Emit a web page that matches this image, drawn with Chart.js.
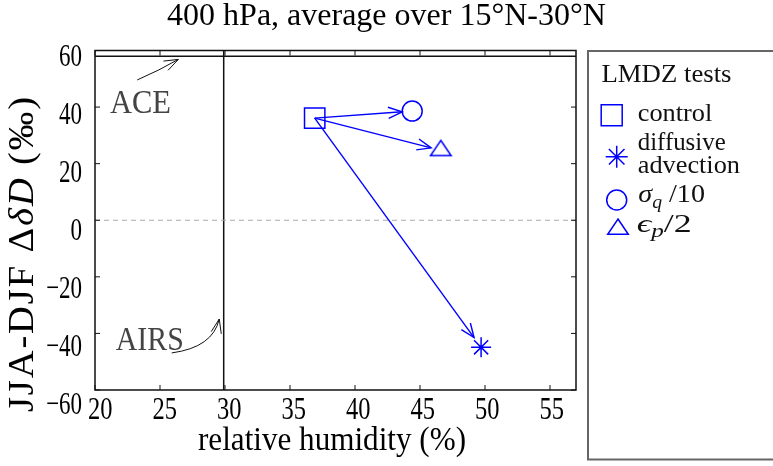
<!DOCTYPE html>
<html>
<head>
<meta charset="utf-8">
<script src="https://cdn.jsdelivr.net/npm/chart.js@4.4.0/dist/chart.umd.min.js"></script>
<style>
html, body { margin: 0; padding: 0; background: #fff; }
canvas { display: block; }
</style>
</head>
<body>
<canvas id="chart" width="773" height="466"></canvas>
<script>
var SERIF = '"Liberation Serif", "DejaVu Serif", serif';

// LMDZ tests: relative humidity (%) and JJA-DJF delta dD (permil)
var testNames = ["control", "diffusive advection", "sigma_q / 10", "eps_p / 2"];
var testRH = [36.9, 49.7, 44.4, 46.6];
var testDD = [36.1, -44.9, 38.6, 24.7];

// observations
var aceDD = 58;     // ACE, horizontal line
var airsRH = 29.9;  // AIRS, vertical line

// axes
var xMin = 20, xMax = 57, yMin = -60, yMax = 60;
var xTicks = [20, 25, 30, 35, 40, 45, 50, 55];
var yTicks = [-60, -40, -20, 0, 20, 40, 60];

// annotation anchors (data coords)
var aceLabel = [21.15, 37.9], aceArrow = [[23.25, 49.6], [26.41, 56.85]];
var airsLabel = [21.6, -45.9], airsArrow = [[25.9, -46.9], [29.08, -44.9], [29.56, -34.9]];

function segFont(s, size) {
    return (s.it ? 'italic ' : '') + (s.sub ? size * 0.7 : size).toFixed(1) + 'px ' + SERIF;
}

// draws a run of text segments; width given -> squeeze (or track out letters when o.track)
function drawText(ctx, segs, x, y, o) {
    if (typeof segs === 'string') segs = [{t: segs}];
    var size = o.size, natural = 0, nChars = 0;
    segs.forEach(function(s) {
        ctx.font = segFont(s, size);
        s.w = ctx.measureText(s.t).width;
        natural += s.w;
        nChars += s.t.length;
    });
    var sx = o.sx || 1, extra = 0, total = natural;
    if (o.width && o.track) { total = o.width / sx; extra = (total - natural) / (nChars - 1); }
    else if (o.width) sx = o.width / natural;
    ctx.save();
    ctx.translate(x, y);
    if (o.rot) ctx.rotate(o.rot);
    ctx.scale(sx, 1);
    var cx = o.align == 'center' ? -total / 2 : (o.align == 'right' ? -total : 0);
    ctx.fillStyle = o.color || '#000';
    ctx.textBaseline = 'alphabetic';
    ctx.textAlign = 'left';
    segs.forEach(function(s) {
        ctx.font = segFont(s, size);
        var dy = s.sub ? size * 0.22 : 0;
        if (extra) {
            for (var k = 0; k < s.t.length; k++) {
                ctx.fillText(s.t[k], cx, dy);
                cx += ctx.measureText(s.t[k]).width + extra;
            }
        } else {
            ctx.fillText(s.t, cx, dy);
            cx += s.w;
        }
    });
    ctx.restore();
}

function arrowHead(ctx, tx, ty, ang, len, spread) {
    ctx.beginPath();
    ctx.moveTo(tx - len * Math.cos(ang - spread), ty - len * Math.sin(ang - spread));
    ctx.lineTo(tx, ty);
    ctx.lineTo(tx - len * Math.cos(ang + spread), ty - len * Math.sin(ang + spread));
    ctx.stroke();
}

function triImage() {
    var c = document.createElement('canvas');
    c.width = 24; c.height = 30;
    var g = c.getContext('2d');
    g.strokeStyle = 'blue';
    g.lineWidth = 1.5;
    g.beginPath();
    g.moveTo(12, 5); g.lineTo(22.3, 20.3); g.lineTo(1.7, 20.3); g.closePath();
    g.stroke();
    return c;
}
var triImg = triImage();

function legendMarker(ctx, style, x, y) {
    ctx.save();
    ctx.strokeStyle = 'blue';
    ctx.lineWidth = 1.5;
    ctx.beginPath();
    if (style == 'rect') {
        ctx.rect(x - 10.5, y - 10.5, 21, 21);
    } else if (style == 'circle') {
        ctx.arc(x, y, 10, 0, Math.PI * 2);
    } else if (style == 'star') {
        for (var a = 0; a < 4; a++) {
            var r = a * Math.PI / 4;
            ctx.moveTo(x - 11 * Math.cos(r), y - 11 * Math.sin(r));
            ctx.lineTo(x + 11 * Math.cos(r), y + 11 * Math.sin(r));
        }
    } else {
        ctx.moveTo(x, y - 10); ctx.lineTo(x + 10.3, y + 5.3); ctx.lineTo(x - 10.3, y + 5.3); ctx.closePath();
    }
    ctx.stroke();
    ctx.restore();
}

var decor = {
    id: 'decor',
    afterDatasetsDraw: function(chart) {
        var ctx = chart.ctx, xs = chart.scales.x, ys = chart.scales.y;
        var shrink = [0, 12, 10, 10];
        var x0 = xs.getPixelForValue(testRH[0]), y0 = ys.getPixelForValue(testDD[0]);
        ctx.save();
        ctx.strokeStyle = 'blue';
        ctx.lineWidth = 1.4;
        for (var i = 1; i < testRH.length; i++) {
            var x1 = xs.getPixelForValue(testRH[i]), y1 = ys.getPixelForValue(testDD[i]);
            var ang = Math.atan2(y1 - y0, x1 - x0);
            var tx = x1 - shrink[i] * Math.cos(ang), ty = y1 - shrink[i] * Math.sin(ang);
            ctx.beginPath();
            ctx.moveTo(x0, y0);
            ctx.lineTo(tx, ty);
            ctx.stroke();
            arrowHead(ctx, tx, ty, ang, 15, 0.38);
        }
        ctx.restore();
    },
    afterDraw: function(chart) {
        var ctx = chart.ctx, a = chart.chartArea, xs = chart.scales.x, ys = chart.scales.y;
        ctx.save();
        // frame
        ctx.strokeStyle = '#111';
        ctx.lineWidth = 1.5;
        ctx.strokeRect(a.left, a.top, a.right - a.left, a.bottom - a.top);
        // inward ticks on all sides
        ctx.lineWidth = 1;
        ctx.beginPath();
        xTicks.forEach(function(v) {
            var p = xs.getPixelForValue(v);
            ctx.moveTo(p, a.bottom); ctx.lineTo(p, a.bottom - 5);
            ctx.moveTo(p, a.top); ctx.lineTo(p, a.top + 5);
        });
        yTicks.forEach(function(v) {
            var p = ys.getPixelForValue(v);
            ctx.moveTo(a.left, p); ctx.lineTo(a.left + 5, p);
            ctx.moveTo(a.right, p); ctx.lineTo(a.right - 5, p);
        });
        ctx.stroke();
        // tick labels
        xTicks.forEach(function(v) {
            var p = xs.getPixelForValue(v) + 5.2 - (v - xMin) * 0.1;
            drawText(ctx, String(v), p, 419, {size: 31, sx: 0.79, align: 'center'});
        });
        yTicks.forEach(function(v) {
            var p = ys.getPixelForValue(v) + 4.6 + (yMax - v) * 0.07 + 10.8;
            drawText(ctx, (v < 0 ? '\u2212' : '') + Math.abs(v), 82, p, {size: 32, sx: 0.72, align: 'right'});
        });
        // titles
        drawText(ctx, '400 hPa, average over 15\u00b0N-30\u00b0N', 386.5, 25, {size: 32, align: 'center'});
        drawText(ctx, 'relative humidity (%)', 332, 450, {size: 34, width: 268, align: 'center'});
        drawText(ctx, [{t: 'JJA-DJF \u0394'}, {t: '\u03b4D', it: 1}, {t: ' (\u2030)'}], 33, 412,
                 {size: 35, sx: 1.1, width: 315, track: true, rot: -Math.PI / 2});
        // observation annotations
        drawText(ctx, 'ACE', xs.getPixelForValue(aceLabel[0]), ys.getPixelForValue(aceLabel[1]),
                 {size: 34, width: 61, color: '#444'});
        drawText(ctx, 'AIRS', xs.getPixelForValue(airsLabel[0]), ys.getPixelForValue(airsLabel[1]),
                 {size: 34, width: 68, color: '#444'});
        ctx.strokeStyle = '#111';
        ctx.lineWidth = 1;
        var s = aceArrow.map(function(p) { return [xs.getPixelForValue(p[0]), ys.getPixelForValue(p[1])]; });
        ctx.beginPath();
        ctx.moveTo(s[0][0], s[0][1]);
        ctx.quadraticCurveTo((s[0][0] + s[1][0]) / 2 + 1, (s[0][1] + s[1][1]) / 2 + 1, s[1][0], s[1][1]);
        ctx.stroke();
        arrowHead(ctx, s[1][0], s[1][1], Math.atan2(s[1][1] - s[0][1], s[1][0] - s[0][0]), 15, 0.35);
        s = airsArrow.map(function(p) { return [xs.getPixelForValue(p[0]), ys.getPixelForValue(p[1])]; });
        ctx.beginPath();
        ctx.moveTo(s[0][0], s[0][1]);
        ctx.quadraticCurveTo(s[1][0], s[1][1], s[2][0], s[2][1]);
        ctx.stroke();
        arrowHead(ctx, s[2][0], s[2][1], Math.atan2(s[2][1] - s[1][1], s[2][0] - s[1][0]), 15, 0.35);
        // legend box
        ctx.strokeStyle = '#666';
        ctx.lineWidth = 2;
        ctx.strokeRect(588, 51, 200, 408.5);
        drawText(ctx, 'LMDZ tests', 601.5, 81.5, {size: 26, width: 130, color: '#111'});
        legendMarker(ctx, 'rect', 611.7, 115.3);
        drawText(ctx, 'control', 637.7, 121, {size: 26, width: 74.6, color: '#111'});
        legendMarker(ctx, 'star', 616.7, 156.7);
        drawText(ctx, 'diffusive', 637.7, 150, {size: 26, width: 88, color: '#111'});
        drawText(ctx, 'advection', 637.7, 173.3, {size: 26, width: 102.3, color: '#111'});
        legendMarker(ctx, 'circle', 616.7, 200);
        drawText(ctx, [{t: '\u03c3', it: 1}, {t: 'q', it: 1, sub: 1}, {t: ' /10'}], 638.3, 202.3,
                 {size: 26, width: 66.7, color: '#111'});
        legendMarker(ctx, 'tri', 618, 229);
        drawText(ctx, [{t: '\u03f5', it: 1}, {t: 'p', it: 1, sub: 1}, {t: '/2'}], 636.7, 231.7,
                 {size: 26, width: 55, color: '#111'});
        ctx.restore();
    }
};

var pointStyles = ['rect', 'star', 'circle', triImg];
var pointRadii = [14.4, 10, 10, 12];

var datasets = [
    {type: 'line', data: [{x: xMin, y: 0}, {x: xMax, y: 0}], borderColor: '#aaa', borderWidth: 1,
     borderDash: [5, 4], pointRadius: 0, showLine: true},
    {type: 'line', data: [{x: xMin, y: aceDD}, {x: xMax, y: aceDD}], borderColor: '#111', borderWidth: 1.5,
     pointRadius: 0, showLine: true},
    {type: 'line', data: [{x: airsRH, y: yMin}, {x: airsRH, y: yMax}], borderColor: '#111', borderWidth: 1.5,
     pointRadius: 0, showLine: true}
];
for (var i = 0; i < testNames.length; i++) {
    datasets.push({
        label: testNames[i],
        data: [{x: testRH[i], y: testDD[i]}],
        pointStyle: pointStyles[i],
        pointRadius: pointRadii[i],
        borderColor: 'blue',
        backgroundColor: 'rgba(0,0,0,0)',
        borderWidth: 1.5
    });
}

new Chart(document.getElementById('chart'), {
    type: 'scatter',
    data: {datasets: datasets},
    options: {
        responsive: false,
        animation: false,
        devicePixelRatio: 1,
        layout: {padding: {top: 50.5, right: 197, left: 0, bottom: 0}},
        plugins: {legend: {display: false}, tooltip: {enabled: false}, title: {display: false}},
        scales: {
            x: {type: 'linear', min: xMin, max: xMax, grid: {display: false}, border: {display: false},
                ticks: {display: false}, afterFit: function(s) { s.height = 76; }},
            y: {type: 'linear', min: yMin, max: yMax, grid: {display: false}, border: {display: false},
                ticks: {display: false}, afterFit: function(s) { s.width = 95; }}
        }
    },
    plugins: [decor]
});
</script>
</body>
</html>
